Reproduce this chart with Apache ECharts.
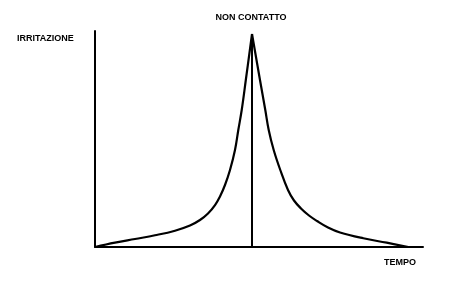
<!DOCTYPE html>
<html>
<head>
<meta charset="utf-8">
<script src="https://cdn.jsdelivr.net/npm/echarts@6/dist/echarts.min.js"></script>
<style>html,body{margin:0;padding:0;background:#fff;}#c{width:450px;height:286px;}</style>
</head>
<body>
<div id="c"></div>
<script>
// Rising branch (time, irritation)
var riseX = [0, 6.10, 12.20, 18.29, 24.39, 28.96, 32.01, 34.45, 36.59, 38.11, 39.63, 41.16, 42.68, 43.69, 44.73, 45.98, 47.87];
var riseY = [0, 1.99, 3.70, 5.42, 7.55, 9.95, 12.50, 15.51, 19.44, 23.38, 28.70, 35.65, 44.91, 54.17, 63.43, 77.31, 98.61];
// Falling branch
var fallX = [47.87, 50.30, 51.92, 52.96, 54.48, 56.49, 58.84, 60.67, 62.80, 65.24, 67.68, 71.04, 74.70, 81.80, 88.93, 95.52];
var fallY = [98.61, 77.31, 63.43, 54.17, 44.91, 35.65, 26.39, 21.53, 17.82, 14.58, 12.04, 9.03, 6.71, 4.03, 1.99, 0];
// Peak marker ("non contatto")
var peakX = 47.87;
var peakY = 98.61;
var labelTop = 'NON CONTATTO';
var labelY = 'IRRITAZIONE';
var labelX = 'TEMPO';

function pairs(xs, ys) { return xs.map(function (x, i) { return [x, ys[i]]; }); }

var chart = echarts.init(document.getElementById('c'), null, { renderer: 'canvas' });
var font = '"Liberation Sans", Arial, sans-serif';
chart.setOption({
  animation: false,
  backgroundColor: '#fff',
  grid: { left: 95, right: 27, top: 31, bottom: 39 },
  xAxis: {
    type: 'value', min: 0, max: 100,
    axisLine: { show: true, onZero: false, lineStyle: { color: '#000', width: 2 } },
    axisTick: { show: false }, axisLabel: { show: false }, splitLine: { show: false }
  },
  yAxis: {
    type: 'value', min: 0, max: 100,
    axisLine: { show: true, onZero: false, lineStyle: { color: '#000', width: 2 } },
    axisTick: { show: false }, axisLabel: { show: false }, splitLine: { show: false }
  },
  series: [
    { type: 'line', data: pairs(riseX, riseY), smooth: 0.4, symbol: 'none',
      lineStyle: { color: '#000', width: 2.2 } },
    { type: 'line', data: pairs(fallX, fallY), smooth: 0.4, symbol: 'none',
      lineStyle: { color: '#000', width: 2.2 } },
    { type: 'line', data: [[peakX, 0], [peakX, peakY]], symbol: 'none',
      lineStyle: { color: '#000', width: 2 } }
  ],
  graphic: [
    { type: 'text', left: 17, top: 34, style: { text: labelY, font: 'bold 9px ' + font, fill: '#000' } },
    { type: 'text', x: 251, y: 13, style: { text: labelTop, font: 'bold 9px ' + font, fill: '#000', align: 'center' } },
    { type: 'text', x: 400, y: 258, style: { text: labelX, font: 'bold 9px ' + font, fill: '#000', align: 'center' } }
  ]
});
</script>
</body>
</html>
